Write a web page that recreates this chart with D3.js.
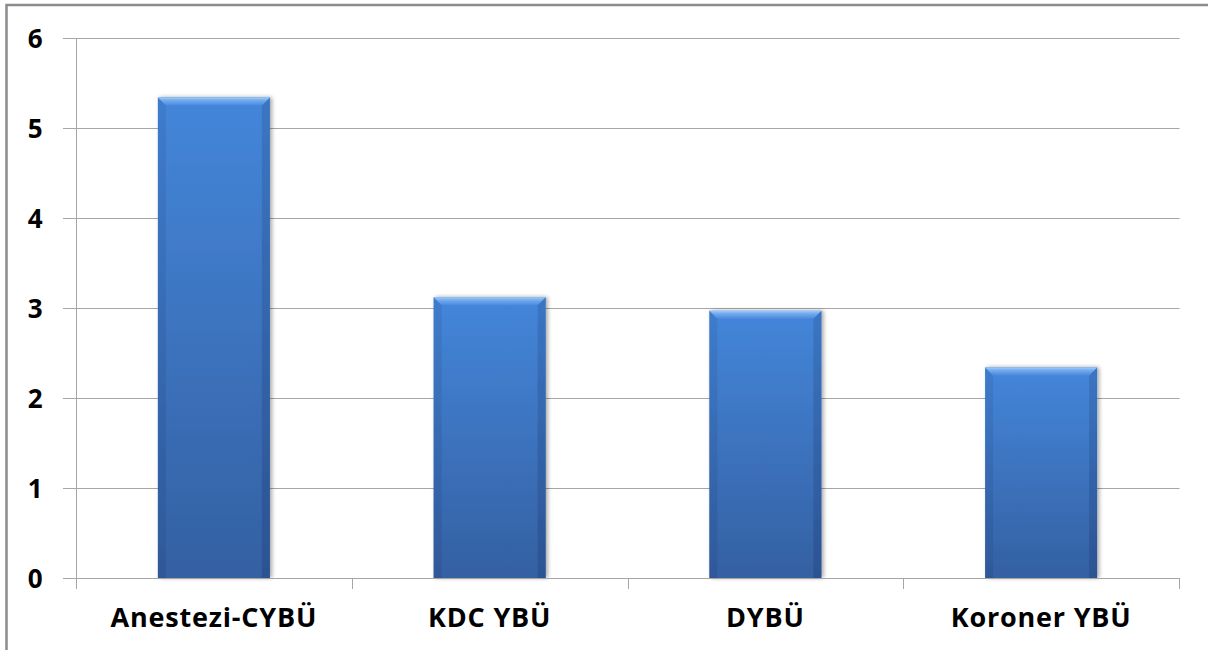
<!DOCTYPE html>
<html>
<head>
<meta charset="utf-8">
<script src="https://cdn.jsdelivr.net/npm/d3@7"></script>
<style>
  html, body { margin: 0; padding: 0; background: #fff; }
  svg { display: block; }
  .lbl { font-family: "Open Sans", Lato, sans-serif; font-weight: 700; fill: #000; }
</style>
</head>
<body>
<svg id="chart" width="1208" height="650"></svg>
<script>
// Units and their values
const categories = ["Anestezi-CYBÜ", "KDC YBÜ", "DYBÜ", "Koroner YBÜ"];
const values = [5.34, 3.12, 2.97, 2.34];
const yTicks = [0, 1, 2, 3, 4, 5, 6];

const svg = d3.select("#chart");
const W = 1208, H = 650;

const x = d3.scaleBand().domain(categories).range([76, 1179]).paddingInner(0.594).paddingOuter(0.297);
const y = d3.scaleLinear().domain([0, 6]).range([578, 38]);

// Outer frame (only top and left edges fall inside the view)
svg.append("rect").attr("x", 6.5).attr("y", 5).attr("width", W + 10).attr("height", H + 10)
  .attr("fill", "#fff").attr("stroke", "#8c8c8c").attr("stroke-width", 2.5);

// Gradients for the bevelled bars
const defs = svg.append("defs");
const body = defs.append("linearGradient").attr("id", "barBody").attr("x1", 0).attr("y1", 0).attr("x2", 0).attr("y2", 1);
body.append("stop").attr("offset", "0%").attr("stop-color", "#4486da");
body.append("stop").attr("offset", "100%").attr("stop-color", "#3460a2");
const side = defs.append("linearGradient").attr("id", "barSide").attr("x1", 0).attr("y1", 0).attr("x2", 0).attr("y2", 1);
side.append("stop").attr("offset", "0%").attr("stop-color", "#3a74c0");
side.append("stop").attr("offset", "100%").attr("stop-color", "#2b5190");
const topG = defs.append("linearGradient").attr("id", "barTop").attr("x1", 0).attr("y1", 0).attr("x2", 0).attr("y2", 1);
topG.append("stop").attr("offset", "0%").attr("stop-color", "#a4cdf7");
topG.append("stop").attr("offset", "35%").attr("stop-color", "#74acef");
topG.append("stop").attr("offset", "100%").attr("stop-color", "#4a8ade");
const shadow = defs.append("filter").attr("id", "shadow").attr("x", "-10%").attr("y", "-10%").attr("width", "130%").attr("height", "120%");
shadow.append("feGaussianBlur").attr("in", "SourceAlpha").attr("stdDeviation", 2);
shadow.append("feOffset").attr("dx", 2).attr("dy", 0).attr("result", "b");
shadow.append("feComponentTransfer").append("feFuncA").attr("type", "linear").attr("slope", 0.35);
const m = shadow.append("feMerge");
m.append("feMergeNode");
m.append("feMergeNode").attr("in", "SourceGraphic");

// Horizontal gridlines
svg.append("g").selectAll("line").data(yTicks.filter(d => d > 0)).join("line")
  .attr("x1", 63).attr("x2", 1179.5)
  .attr("y1", d => Math.round(y(d)) + 0.5).attr("y2", d => Math.round(y(d)) + 0.5)
  .attr("stroke", "#a6a6a6").attr("stroke-width", 1);

// Bars
const bw = x.bandwidth();
const bev = 8;
const bars = svg.append("g").selectAll("g").data(categories).join("g")
  .attr("filter", "url(#shadow)");
bars.each(function(c, i) {
  const g = d3.select(this);
  const x0 = x(c), x1 = x0 + bw, y0 = y(values[i]), y1 = y(0);
  g.append("rect").attr("x", x0).attr("y", y0).attr("width", bw).attr("height", y1 - y0).attr("fill", "url(#barBody)");
  // left and right bevel strips
  g.append("path").attr("d", `M${x0},${y0}L${x0 + bev},${y0 + bev}L${x0 + bev},${y1}L${x0},${y1}Z`)
    .attr("fill", "url(#barSide)").attr("opacity", 0.55);
  g.append("path").attr("d", `M${x1},${y0}L${x1 - bev},${y0 + bev}L${x1 - bev},${y1}L${x1},${y1}Z`)
    .attr("fill", "url(#barSide)").attr("opacity", 0.9);
  // top bevel
  g.append("path").attr("d", `M${x0},${y0}L${x1},${y0}L${x1 - bev},${y0 + bev}L${x0 + bev},${y0 + bev}Z`)
    .attr("fill", "url(#barTop)");
});

// Y axis
const yAxis = svg.append("g").attr("transform", "translate(76.5,0)")
  .call(d3.axisLeft(y).tickValues(yTicks).tickSize(13).tickPadding(21).tickFormat(d3.format("d")));
yAxis.select(".domain").attr("stroke", "#a6a6a6").attr("d", `M0,${y(6)}V${y(0)}`);
yAxis.selectAll(".tick line").attr("stroke", "#a6a6a6");
yAxis.selectAll("text").attr("class", "lbl").style("font-size", "26px").attr("dy", "0.36em");
yAxis.selectAll(".tick").attr("transform", d => `translate(0,${Math.round(y(d)) + 0.5})`);

// X axis baseline and category divider ticks
const bounds = d3.range(categories.length + 1).map(k => 76 + k * x.step());
const xg = svg.append("g");
xg.append("line").attr("x1", 63).attr("x2", 1179.5).attr("y1", 578.5).attr("y2", 578.5).attr("stroke", "#a6a6a6");
xg.selectAll("line.tk").data(bounds).join("line").attr("class", "tk")
  .attr("x1", d => Math.round(d) + 0.5).attr("x2", d => Math.round(d) + 0.5)
  .attr("y1", 578).attr("y2", 589).attr("stroke", "#a6a6a6");
xg.selectAll("text").data(categories).join("text").attr("class", "lbl")
  .attr("x", d => x(d) + bw / 2).attr("y", 627).attr("text-anchor", "middle")
  .style("font-size", "27px").style("letter-spacing", "0.8px").text(d => d);
</script>
</body>
</html>
